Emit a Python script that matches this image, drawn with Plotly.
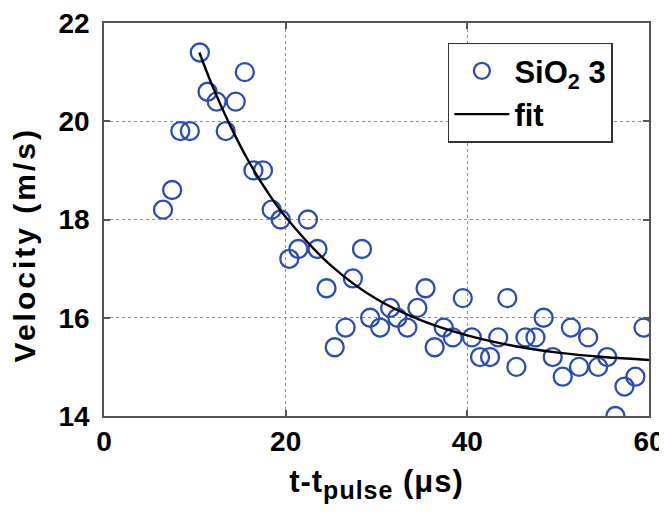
import plotly.graph_objects as go

t_data = [6.5, 7.5, 8.4, 9.45, 10.55, 11.4, 12.4, 13.4, 14.5, 15.5, 16.45, 17.5, 18.46, 19.45,
          20.4, 21.4, 22.45, 23.5, 24.5, 25.4, 26.6, 27.4, 28.4, 29.3, 30.4, 31.5, 32.3, 33.4,
          34.5, 35.4, 36.4, 37.4, 38.4, 39.5, 40.5, 41.4, 42.5, 43.4, 44.4, 45.4, 46.4, 47.5,
          48.4, 49.4, 50.5, 51.4, 52.3, 53.3, 54.4, 55.4, 56.3, 57.3, 58.5, 59.4]
v_data = [18.2, 18.6, 19.8, 19.8, 21.4, 20.6, 20.4, 19.8, 20.4, 21.0, 19.0, 19.0, 18.2, 18.0,
          17.2, 17.4, 18.0, 17.4, 16.6, 15.4, 15.8, 16.8, 17.4, 16.0, 15.8, 16.2, 16.0, 15.8,
          16.2, 16.6, 15.4, 15.8, 15.6, 16.4, 15.6, 15.2, 15.2, 15.6, 16.4, 15.0, 15.6, 15.6,
          16.0, 15.2, 14.8, 15.8, 15.0, 15.6, 15.0, 15.2, 14.0, 14.6, 14.8, 15.8]

# Fit curve
t_fit = [10.5, 12, 14, 16, 18, 20, 25, 30, 35, 40, 45, 50, 55, 60]
v_fit = [21.40, 20.69, 19.87, 19.16, 18.56, 18.05, 17.06, 16.38, 15.94, 15.64, 15.43, 15.29, 15.20, 15.14]

x_ticks = [0, 20, 40, 60]
y_ticks = [14, 16, 18, 20, 22]

FONT = "Liberation Sans"

fig = go.Figure()
fig.add_trace(go.Scatter(
    x=t_data, y=v_data, mode="markers", name="SiO<sub>2</sub> 3",
    marker=dict(symbol="circle-open", size=18, color="#2a4cb6", line=dict(width=2.3, color="#2a4cb6")),
))
fig.add_trace(go.Scatter(
    x=t_fit, y=v_fit, mode="lines", name="fit", line=dict(color="black", width=2.4, shape="spline"),
))

axis_common = dict(
    showline=True, linecolor="#555555", linewidth=1.5, mirror="allticks",
    ticks="inside", ticklen=6, tickcolor="#555555", tickwidth=1.5,
    showgrid=True, gridcolor="#7f9595", griddash="dot", gridwidth=1.4,
    zeroline=False, automargin=False, ticklabeloverflow="allow",
    tickfont=dict(family=FONT, size=28, color="black", weight="bold"),
)

# The page body has an 8 px margin, so the figure is 8 px smaller and top/left margins shifted.
fig.update_layout(
    width=659, height=510,
    margin=dict(l=96, r=18, t=15, b=102),
    paper_bgcolor="white", plot_bgcolor="white",
    xaxis=dict(range=[0, 60], tickvals=x_ticks, ticktext=[str(v) for v in x_ticks],
               ticklabelstandoff=0,
               title=dict(text="<span style=\"letter-spacing:1px\">t-t<sub><span style=\"font-size:25px\">pulse</span></sub> (μs)</span>",
                          standoff=14,
                          font=dict(family=FONT, size=31, color="black", weight="bold")),
               **axis_common),
    yaxis=dict(range=[14, 22], tickvals=y_ticks, ticktext=[str(v) for v in y_ticks],
               ticklabelstandoff=7,
               **axis_common),
    legend=dict(x=0.631, y=0.95, xanchor="left", yanchor="top",
                bgcolor="white", bordercolor="#333333", borderwidth=1.5,
                font=dict(family=FONT, size=31, color="black", weight="bold"),
                itemwidth=55, tracegroupgap=0),
    showlegend=True,
    annotations=[dict(
        text="<span style=\"letter-spacing:3px\">Velocity (m/s)</span>",
        xref="paper", yref="paper", x=-0.146, y=0.435, xanchor="center", yanchor="middle",
        textangle=-90, showarrow=False,
        font=dict(family=FONT, size=30, color="black", weight="bold"),
    )],
)

fig.write_html("out.html")
